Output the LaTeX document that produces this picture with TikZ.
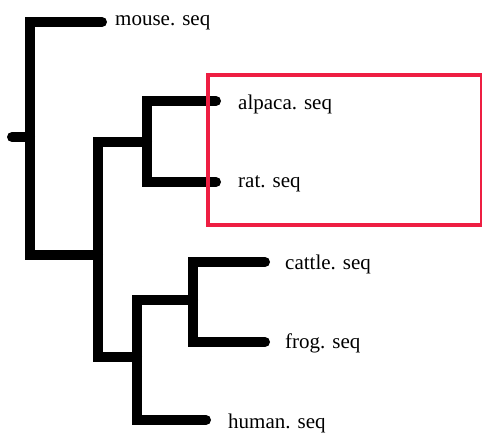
\documentclass[tikz,border=0pt]{standalone}
\usepackage{fontspec}
\setmainfont{Liberation Serif}
\definecolor{boxred}{RGB}{238,30,66}
\begin{document}
\begin{tikzpicture}[x=1pt,y=-1pt,
  branch/.style={line width=10pt,line cap=round,line join=miter},
  leaf/.style={anchor=west,inner sep=0pt,font=\fontsize{21}{24}\selectfont},
  hilite/.style={draw=boxred,line width=4pt}]
\fill[white] (0,0) rectangle (482,432);
\useasboundingbox (0,0) rectangle (482,432);
% internal nodes
\coordinate (stub) at (12,137);
\coordinate (r)  at (30,137);
\coordinate (n2) at (98,255);
\coordinate (n3) at (147,142);
\coordinate (n4) at (137,357);
\coordinate (n5) at (193,300);
% branch tips
\coordinate (tmouse)  at (102,22);
\coordinate (talpaca) at (216,101);
\coordinate (trat)    at (216,182);
\coordinate (tcattle) at (265,262);
\coordinate (tfrog)   at (265,342);
\coordinate (thuman)  at (206,420);
% leaf labels
\node[leaf] (mouse)  at (115,23)  {mouse. seq};
\node[leaf] (alpaca) at (238,104) {alpaca. seq};
\node[leaf] (rat)    at (238,184) {rat. seq};
\node[leaf] (cattle) at (285,264) {cattle. seq};
\node[leaf] (frog)   at (285,343) {frog. seq};
\node[leaf] (human)  at (228,423) {human. seq};
% tree
\draw[branch] (stub) -- (r);
\draw[branch] (tmouse) -| (r) |- (n2);
\draw[branch] (n3) -| (n2) |- (n4);
\draw[branch] (talpaca) -| (n3) |- (trat);
\draw[branch] (n5) -| (n4) |- (thuman);
\draw[branch] (tcattle) -| (n5) |- (tfrog);
% highlight frame
\node[hilite,inner sep=0pt,minimum width=274pt,minimum height=150pt,anchor=north west] (frame) at (206,73) {};
\end{tikzpicture}
\end{document}
